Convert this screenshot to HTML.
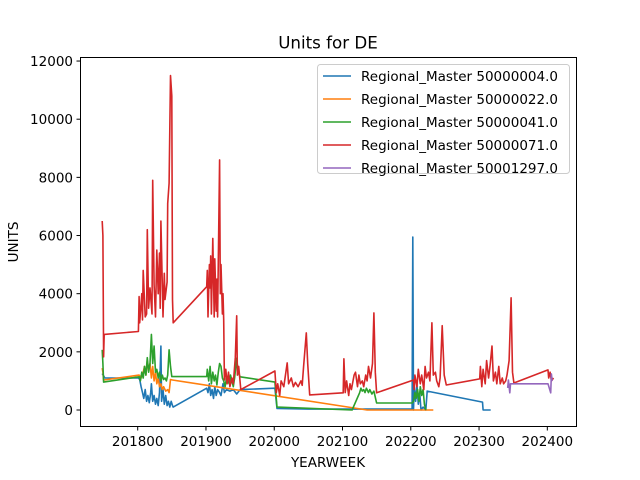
<!DOCTYPE html>
<html><head><meta charset="utf-8"><style>
html,body{margin:0;padding:0;background:#fff}
svg{display:block;font-family:"DejaVu Sans","Liberation Sans",sans-serif}
</style></head><body>
<svg id="chart" width="640" height="480" viewBox="0 0 640 480" xmlns="http://www.w3.org/2000/svg">
<rect x="0" y="0" width="640" height="480" fill="#fff"/>
<text x="328" y="48.3" font-size="16.7" text-anchor="middle">Units for DE</text>
<g id="plot"></g>
<rect x="80.5" y="57.5" width="496" height="369" fill="none" stroke="#000" stroke-width="1"/>
<g id="xticks"></g><g id="yticks"></g>
<text x="328" y="467" font-size="13.5" text-anchor="middle">YEARWEEK</text>
<text x="0" y="0" font-size="13.5" text-anchor="middle" transform="translate(18,242) rotate(-90)">UNITS</text>
<g id="legend"></g>
</svg>
<script>
const xTicks=[201800,201900,202000,202100,202200,202300,202400];
const yTicks=[0,2000,4000,6000,8000,10000,12000];
const seriesNames=["Regional_Master 50000004.0","Regional_Master 50000022.0","Regional_Master 50000041.0","Regional_Master 50000071.0","Regional_Master 50001297.0"];
const colors=["#1f77b4","#ff7f0e","#2ca02c","#d62728","#9467bd"];
const blueX=[201748,201752,201801,201803,201805,201807,201809,201811,201813,201815,201817,201819,201820,201822,201824,201826,201828,201830,201832,201834,201835,201837,201839,201841,201843,201845,201847,201849,201851,201852,201901,201903,201905,201907,201909,201911,201913,201915,201917,201920,201922,201925,201927,201930,201935,201940,201945,201950,202001,202004,202050,202120,202202,202203,202204,202205,202207,202209,202211,202213,202215,202218,202222,202224,202305,202306,202317];
const blueY=[1250,1100,1100,1050,800,600,400,700,300,500,250,600,900,300,500,200,400,150,600,2200,300,700,200,500,150,300,100,300,150,100,750,600,900,500,700,400,800,500,700,600,500,900,600,700,650,700,550,700,750,50,30,30,30,5950,0,800,300,900,200,600,0,100,0,650,270,0,0];
const orangeX=[201748,201749,201750,201802,201805,201808,201810,201812,201814,201816,201818,201820,201822,201824,201826,201828,201830,201832,201834,201836,201838,201841,201844,201846,201848,201851,202136,202233];
const orangeY=[1440,1300,1030,1200,1100,1300,1500,1200,1700,1400,1600,1100,1500,1000,1300,900,1100,800,900,700,800,650,700,600,1050,1030,0,0];
const greenX=[201748,201749,201750,201802,201804,201806,201808,201810,201812,201814,201816,201818,201820,201822,201824,201826,201828,201830,201832,201834,201836,201838,201840,201842,201844,201846,201848,201850,201901,201902,201904,201906,201908,201910,201912,201914,201916,201918,201920,201922,201924,201926,201928,201930,201934,201936,201940,201942,201945,201947,201950,202001,202004,202114,202125,202127,202129,202131,202133,202135,202138,202140,202143,202146,202150,202202,202204,202206,202208,202210,202212,202214,202216,202218,202220,202222];
const greenY=[2070,1600,960,1140,1000,1300,1100,1500,1200,1800,1300,1600,2600,1600,2200,1300,1400,1100,1300,1000,1200,1050,1100,1000,1200,2070,1500,1150,1150,1400,1000,1500,900,1300,1000,1200,860,1300,1600,1500,1100,1000,800,1100,900,1200,800,1100,1780,1300,1140,960,100,0,590,750,650,700,600,750,600,700,550,650,240,240,300,600,400,700,300,800,500,700,200,0];
const redX=[201748,201749,201750,201751,201801,201802,201803,201806,201807,201808,201811,201813,201814,201816,201818,201821,201822,201824,201826,201828,201830,201832,201833,201834,201837,201839,201840,201843,201844,201846,201848,201850,201851,201852,
201901,201902,201903,201905,201906,201907,201908,201910,201912,201913,201915,201916,201917,201920,201921,201922,201924,201925,201926,201927,201929,201931,201933,201935,201938,201940,201943,201945,201946,201948,201951,
202001,202003,202005,202008,202010,202014,202019,202021,202025,202028,202031,202035,202039,202041,202043,202047,202049,202052,
202101,202102,202104,202106,202109,202111,202113,202117,202119,202122,202124,202126,202129,202131,202134,202136,202138,202141,202144,202146,202148,202150,
202204,202205,202206,202209,202211,202214,202216,202219,202221,202223,202226,202228,202231,202233,202236,202238,202241,202243,202246,202249,202252,
202301,202302,202304,202306,202309,202311,202314,202316,202319,202321,202324,202326,202329,202331,202334,202336,202339,202341,202344,202347,202349,202351,
202401,202402,202404,202406,202409];
const redY=[6500,6000,1830,2600,2700,3900,3000,4000,3100,4800,3200,3300,6200,3500,4200,3300,7900,4300,3200,5500,4000,5400,3500,6500,3200,4700,3800,4400,7100,7800,11500,10800,3800,3000,
4240,4800,3200,5000,4200,5300,3300,5900,3200,5200,3400,4500,3200,8600,4000,5000,3300,4000,3100,1030,1400,900,1300,800,1100,900,1800,3240,1200,1500,700,
1340,600,900,500,1000,800,1620,900,1100,800,950,800,1000,850,1500,2650,1600,520,
590,1760,600,1000,500,900,700,1200,1300,800,1200,900,1000,800,1200,1000,1500,1100,1600,3340,1300,590,
1030,700,1200,800,1400,900,1200,700,1500,1100,1300,1000,3000,1200,1300,1000,800,1100,2900,1200,860,
1070,1500,800,1400,900,1700,1100,1500,2200,1000,1300,900,1500,900,1100,900,1000,1200,1700,3860,1300,930,
1380,1100,1300,1000,1100];
const purpleX=[202342,202343,202345,202346,202401,202405,202406,202407];
const purpleY=[760,1030,590,900,900,590,1240,1000];
const seriesX=[blueX,orangeX,greenX,redX,purpleX];
const seriesY=[blueY,orangeY,greenY,redY,purpleY];
const NS="http://www.w3.org/2000/svg";
function xs(v){return 137.7+(v-201800)*0.6827;}
function ys(v){return 410-v*0.02908;}
const plot=document.getElementById('plot');
for(let s=0;s<5;s++){
  const p=document.createElementNS(NS,'polyline');
  p.setAttribute('points',seriesX[s].map((x,i)=>xs(x).toFixed(1)+','+ys(seriesY[s][i]).toFixed(1)).join(' '));
  p.setAttribute('fill','none');p.setAttribute('stroke',colors[s]);p.setAttribute('stroke-width','1.6');p.setAttribute('stroke-linejoin','round');
  
  
  plot.appendChild(p);
}
const xg=document.getElementById('xticks');
xTicks.forEach(t=>{
  const l=document.createElementNS(NS,'line');const x=xs(t);
  l.setAttribute('x1',x);l.setAttribute('x2',x);l.setAttribute('y1',427);l.setAttribute('y2',430.5);l.setAttribute('stroke','#000');
  
  
  xg.appendChild(l);
  const tx=document.createElementNS(NS,'text');tx.setAttribute('x',x);tx.setAttribute('y',446);tx.setAttribute('font-size','13.5');tx.setAttribute('text-anchor','middle');tx.textContent=t;
  
  
  xg.appendChild(tx);
});
const yg=document.getElementById('yticks');
yTicks.forEach(t=>{
  const y=ys(t);const l=document.createElementNS(NS,'line');
  l.setAttribute('x1',76.5);l.setAttribute('x2',80.5);l.setAttribute('y1',y);l.setAttribute('y2',y);l.setAttribute('stroke','#000');
  
  
  yg.appendChild(l);
  const tx=document.createElementNS(NS,'text');tx.setAttribute('x',73);tx.setAttribute('y',y+5);tx.setAttribute('font-size','13.5');tx.setAttribute('text-anchor','end');tx.textContent=t;
  
  
  yg.appendChild(tx);
});
const lg=document.getElementById('legend');
const box=document.createElementNS(NS,'rect');
box.setAttribute('x',317.5);box.setAttribute('y',64.5);box.setAttribute('width',252);box.setAttribute('height',109);box.setAttribute('rx',3);
box.setAttribute('fill','#fff');box.setAttribute('fill-opacity','0.8');box.setAttribute('stroke','#ccc');


lg.appendChild(box);
seriesNames.forEach((n,i)=>{
  const y=76+i*23;
  const l=document.createElementNS(NS,'line');
  l.setAttribute('x1',323);l.setAttribute('x2',351);l.setAttribute('y1',y);l.setAttribute('y2',y);l.setAttribute('stroke',colors[i]);l.setAttribute('stroke-width','1.5');
  
  
  lg.appendChild(l);
  const tx=document.createElementNS(NS,'text');tx.setAttribute('x',361);tx.setAttribute('y',y+5);tx.setAttribute('font-size','13.5');tx.textContent=n;
  
  
  lg.appendChild(tx);
});
</script>
</body></html>
